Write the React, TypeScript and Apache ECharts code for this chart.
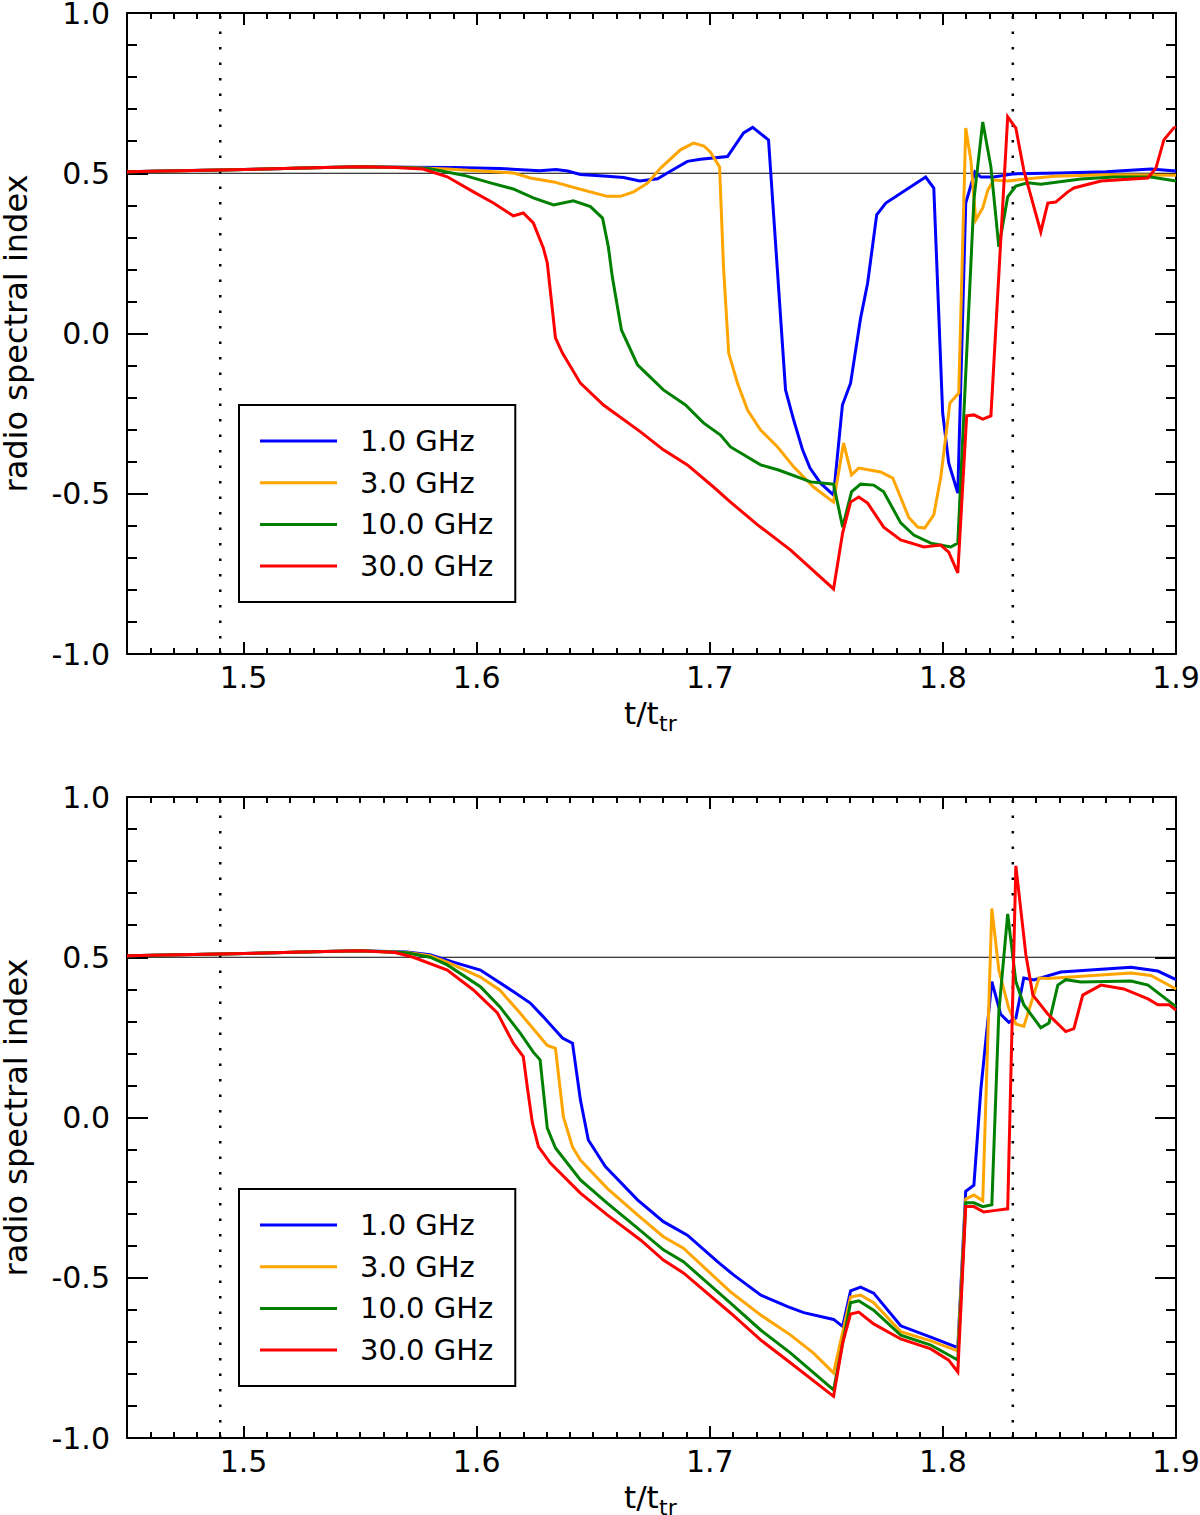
import React, { useEffect, useRef } from "react";
import * as echarts from "echarts";

// Time axis in units of t_tr, spectral index on the vertical axis
const tMin = 1.45;
const tMax = 1.9;
const alphaMin = -1;
const alphaMax = 1;
const majorTimeTicks = [1.5, 1.6, 1.7, 1.8, 1.9];
const minorTimeTicks = Array.from({ length: 44 }, (_, i) => +(1.46 + i * 0.01).toFixed(2));
const markerTimes = [1.49, 1.83];
const referenceIndex = 0.5;

const frequencies = ["1.0 GHz", "3.0 GHz", "10.0 GHz", "30.0 GHz"];
const colors = ["#0000ff", "#ffa500", "#008000", "#ff0000"];

// Upper panel
const upper1GHz = [
  [1.45, 0.505], [1.47, 0.508], [1.49, 0.51], [1.51, 0.513], [1.53, 0.517], [1.55, 0.52], [1.57, 0.519],
  [1.59, 0.518], [1.61, 0.515], [1.627, 0.508], [1.634, 0.512], [1.639, 0.507], [1.6445, 0.496],
  [1.656, 0.491], [1.663, 0.487], [1.67, 0.476], [1.6776, 0.483], [1.684, 0.51], [1.6904, 0.537],
  [1.696, 0.544], [1.7076, 0.552], [1.7145, 0.626], [1.7184, 0.643], [1.7252, 0.604], [1.7325, -0.176],
  [1.736, -0.27], [1.7398, -0.363], [1.743, -0.42], [1.7475, -0.467], [1.7531, -0.504], [1.7569, -0.223],
  [1.7604, -0.155], [1.7647, 0.048], [1.7677, 0.157], [1.7716, 0.37], [1.7755, 0.407], [1.7926, 0.488],
  [1.7961, 0.454], [1.7999, -0.248], [1.8025, -0.404], [1.8064, -0.498], [1.8098, 0.407], [1.8137, 0.504],
  [1.8163, 0.488], [1.8218, 0.488], [1.8304, 0.498], [1.85, 0.501], [1.87, 0.505], [1.8892, 0.513], [1.9, 0.507],
];
const upper3GHz = [
  [1.45, 0.505], [1.49, 0.51], [1.53, 0.517], [1.55, 0.52], [1.57, 0.518], [1.5874, 0.513], [1.6157, 0.501],
  [1.623, 0.485], [1.633, 0.473], [1.6445, 0.45], [1.656, 0.428], [1.6617, 0.428], [1.6673, 0.442],
  [1.6733, 0.469], [1.6789, 0.516], [1.6874, 0.573], [1.693, 0.594], [1.6975, 0.585], [1.7003, 0.566],
  [1.7042, 0.52], [1.7059, 0.207], [1.7081, -0.061], [1.7119, -0.155], [1.7162, -0.239], [1.7218, -0.301],
  [1.7291, -0.354], [1.736, -0.416], [1.7445, -0.479], [1.7531, -0.526], [1.7574, -0.342], [1.7608, -0.441],
  [1.7639, -0.42], [1.7733, -0.432], [1.7785, -0.451], [1.7853, -0.573], [1.7892, -0.604], [1.7922, -0.607],
  [1.7961, -0.566], [1.7991, -0.448], [1.803, -0.217], [1.8068, -0.186], [1.8098, 0.641], [1.812, 0.541],
  [1.8141, 0.354], [1.8171, 0.392], [1.8193, 0.448], [1.8218, 0.479], [1.8278, 0.476], [1.8476, 0.491],
  [1.87, 0.495], [1.9, 0.494],
];
const upper10GHz = [
  [1.45, 0.505], [1.49, 0.51], [1.53, 0.517], [1.55, 0.52], [1.57, 0.518], [1.58, 0.514], [1.5943, 0.494],
  [1.6059, 0.47], [1.6157, 0.451], [1.6243, 0.423], [1.633, 0.401], [1.6415, 0.414], [1.6488, 0.396],
  [1.654, 0.36], [1.6565, 0.27], [1.6582, 0.176], [1.6621, 0.011], [1.669, -0.098], [1.6801, -0.176],
  [1.6896, -0.223], [1.6973, -0.279], [1.7046, -0.317], [1.7089, -0.354], [1.7218, -0.41], [1.7295, -0.426],
  [1.7433, -0.463], [1.7531, -0.47], [1.757, -0.604], [1.7608, -0.494], [1.7647, -0.47], [1.7703, -0.473],
  [1.7746, -0.494], [1.7819, -0.591], [1.7875, -0.629], [1.7948, -0.654], [1.8034, -0.666], [1.8064, -0.654],
  [1.8133, 0.417], [1.8171, 0.66], [1.8206, 0.52], [1.824, 0.27], [1.8278, 0.426], [1.8313, 0.46],
  [1.8364, 0.47], [1.842, 0.466], [1.8592, 0.482], [1.8734, 0.488], [1.8892, 0.488], [1.9, 0.476],
];
const upper30GHz = [
  [1.45, 0.505], [1.49, 0.51], [1.53, 0.517], [1.55, 0.52], [1.565, 0.518], [1.577, 0.513], [1.5874, 0.489],
  [1.5986, 0.442], [1.6072, 0.407], [1.6157, 0.367], [1.62, 0.376], [1.6243, 0.345], [1.6286, 0.267],
  [1.6303, 0.22], [1.6338, -0.014], [1.6368, -0.061], [1.6445, -0.155], [1.6544, -0.223], [1.6703, -0.307],
  [1.6801, -0.363], [1.6904, -0.41], [1.7016, -0.479], [1.7089, -0.526], [1.7205, -0.597], [1.7347, -0.676],
  [1.7531, -0.797], [1.757, -0.622], [1.7604, -0.526], [1.7639, -0.51], [1.7677, -0.529], [1.7746, -0.604],
  [1.7819, -0.644], [1.7918, -0.666], [1.7991, -0.66], [1.8025, -0.682], [1.8064, -0.747], [1.8102, -0.257],
  [1.8133, -0.254], [1.8171, -0.267], [1.8206, -0.257], [1.8278, 0.676], [1.8313, 0.641], [1.8347, 0.51],
  [1.842, 0.317], [1.845, 0.407], [1.8484, 0.41], [1.8536, 0.442], [1.8562, 0.454], [1.8678, 0.476],
  [1.8879, 0.485], [1.8914, 0.516], [1.8948, 0.604], [1.899, 0.641], [1.9, 0.645],
];

// Lower panel
const lower1GHz = [
  [1.45, 0.505], [1.49, 0.51], [1.53, 0.517], [1.55, 0.52], [1.57, 0.516], [1.58, 0.508], [1.59, 0.485],
  [1.6016, 0.46], [1.6157, 0.393], [1.623, 0.357], [1.6286, 0.314], [1.6368, 0.248], [1.6411, 0.232],
  [1.6445, 0.055], [1.6479, -0.07], [1.6552, -0.153], [1.669, -0.257], [1.6801, -0.325], [1.6904, -0.367],
  [1.7033, -0.45], [1.7102, -0.491], [1.7218, -0.554], [1.7334, -0.59], [1.7403, -0.609], [1.7531, -0.63],
  [1.757, -0.652], [1.7604, -0.541], [1.7647, -0.529], [1.7703, -0.548], [1.7819, -0.65], [1.7948, -0.685],
  [1.8064, -0.718], [1.8098, -0.23], [1.8133, -0.211], [1.8163, 0.089], [1.821, 0.424], [1.8248, 0.322],
  [1.8283, 0.297], [1.8313, 0.31], [1.8347, 0.435], [1.839, 0.429], [1.8506, 0.454], [1.8807, 0.469],
  [1.8922, 0.457], [1.9, 0.43],
];
const lower3GHz = [
  [1.45, 0.505], [1.49, 0.51], [1.53, 0.517], [1.55, 0.52], [1.57, 0.515], [1.58, 0.505], [1.5874, 0.485],
  [1.6016, 0.438], [1.61, 0.397], [1.6187, 0.325], [1.6303, 0.225], [1.6338, 0.216], [1.6372, 0.002],
  [1.6411, -0.092], [1.6445, -0.133], [1.656, -0.221], [1.669, -0.304], [1.6801, -0.372], [1.6887, -0.408],
  [1.7089, -0.544], [1.7218, -0.616], [1.7347, -0.679], [1.7445, -0.735], [1.7531, -0.797], [1.7604, -0.56],
  [1.7647, -0.554], [1.7703, -0.578], [1.7819, -0.668], [1.7948, -0.697], [1.8064, -0.728], [1.8098, -0.254],
  [1.8133, -0.242], [1.8171, -0.26], [1.821, 0.652], [1.824, 0.46], [1.8283, 0.34], [1.8313, 0.292],
  [1.8347, 0.284], [1.8412, 0.435], [1.845, 0.434], [1.8807, 0.451], [1.8892, 0.443], [1.9, 0.401],
];
const lower10GHz = [
  [1.45, 0.505], [1.49, 0.51], [1.53, 0.517], [1.55, 0.52], [1.57, 0.514], [1.58, 0.5], [1.5874, 0.476],
  [1.6016, 0.408], [1.61, 0.345], [1.6187, 0.263], [1.6243, 0.204], [1.6272, 0.18], [1.6303, -0.033],
  [1.6338, -0.095], [1.6445, -0.195], [1.656, -0.267], [1.669, -0.345], [1.6801, -0.413], [1.6887, -0.45],
  [1.7089, -0.579], [1.7218, -0.663], [1.7347, -0.735], [1.7531, -0.85], [1.7604, -0.578], [1.7639, -0.572],
  [1.7703, -0.601], [1.7819, -0.679], [1.7948, -0.71], [1.8064, -0.757], [1.8098, -0.266], [1.8133, -0.266],
  [1.8171, -0.278], [1.821, -0.272], [1.824, 0.329], [1.8278, 0.635], [1.8313, 0.424], [1.8347, 0.352],
  [1.842, 0.28], [1.8455, 0.295], [1.8493, 0.413], [1.8527, 0.43], [1.8592, 0.423], [1.8807, 0.426],
  [1.888, 0.413], [1.9, 0.346],
];
const lower30GHz = [
  [1.45, 0.505], [1.49, 0.51], [1.53, 0.517], [1.55, 0.52], [1.565, 0.515], [1.5728, 0.5], [1.5874, 0.46],
  [1.5986, 0.398], [1.6089, 0.326], [1.6157, 0.232], [1.62, 0.19], [1.6217, 0.096], [1.6239, -0.017],
  [1.6265, -0.091], [1.6316, -0.142], [1.6445, -0.236], [1.656, -0.304], [1.6703, -0.382], [1.6801, -0.445],
  [1.6887, -0.485], [1.7089, -0.61], [1.7218, -0.694], [1.7347, -0.766], [1.7531, -0.87], [1.757, -0.704],
  [1.7604, -0.613], [1.7639, -0.607], [1.7703, -0.644], [1.7819, -0.691], [1.7948, -0.722], [1.8025, -0.757],
  [1.8064, -0.794], [1.8098, -0.278], [1.8133, -0.278], [1.8175, -0.295], [1.8235, -0.289], [1.8278, -0.285],
  [1.8313, 0.785], [1.8356, 0.508], [1.8386, 0.382], [1.845, 0.323], [1.8527, 0.268], [1.8562, 0.277],
  [1.86, 0.382], [1.8678, 0.413], [1.8776, 0.401], [1.888, 0.37], [1.8922, 0.352], [1.897, 0.352], [1.9, 0.335],
];

const panels = [
  [upper1GHz, upper3GHz, upper10GHz, upper30GHz],
  [lower1GHz, lower3GHz, lower10GHz, lower30GHz],
];

const FONT = '"DejaVu Sans", "Liberation Sans", sans-serif';
const BLACK = "#000";

const grids = [
  { left: 127, top: 13, width: 1049, height: 641, outerBoundsMode: "none", containLabel: false },
  { left: 127, top: 797, width: 1049, height: 641, outerBoundsMode: "none", containLabel: false },
];
const legendTops = [405, 1189];

// x-axis title "t/t_tr" written as text plus lowered subscript under each panel
function axisTitle(gridTop: number, gridHeight: number) {
  const base = gridTop + gridHeight;
  return [
    {
      type: "text", x: 624, y: base + 59, silent: true,
      style: { text: "t/t", font: `31px ${FONT}`, fill: BLACK, align: "left", verticalAlign: "middle" },
    },
    {
      type: "text", x: 659, y: base + 69, silent: true,
      style: { text: "tr", font: `22px ${FONT}`, fill: BLACK, align: "left", verticalAlign: "middle" },
    },
  ];
}

function buildOption() {
  const xAxes: any[] = [];
  const yAxes: any[] = [];
  const series: any[] = [];

  grids.forEach((_, g) => {
    const lineStyle = { color: BLACK, width: 2 };
    const tickLabel = {
      show: true,
      customValues: majorTimeTicks,
      formatter: (v: number) => v.toFixed(1),
      margin: 8,
      color: BLACK,
      fontFamily: FONT,
      fontSize: 30,
    };
    // bottom: major ticks + labels
    xAxes.push({
      gridIndex: g, type: "value", min: tMin, max: tMax, position: "bottom",
      axisLine: { show: true, onZero: false, lineStyle },
      axisTick: { show: true, inside: true, length: 12, customValues: majorTimeTicks, lineStyle },
      axisLabel: tickLabel,
      splitLine: { show: false },
    });
    // bottom: minor ticks
    xAxes.push({
      gridIndex: g, type: "value", min: tMin, max: tMax, position: "bottom",
      axisLine: { show: false, onZero: false },
      axisTick: { show: true, inside: true, length: 6, customValues: minorTimeTicks, lineStyle },
      axisLabel: { show: false },
      splitLine: { show: false },
    });
    // top: major ticks
    xAxes.push({
      gridIndex: g, type: "value", min: tMin, max: tMax, position: "top",
      axisLine: { show: true, onZero: false, lineStyle },
      axisTick: { show: true, inside: true, length: 12, customValues: majorTimeTicks, lineStyle },
      axisLabel: { show: false },
      splitLine: { show: false },
    });
    // top: minor ticks
    xAxes.push({
      gridIndex: g, type: "value", min: tMin, max: tMax, position: "top",
      axisLine: { show: false, onZero: false },
      axisTick: { show: true, inside: true, length: 6, customValues: minorTimeTicks, lineStyle },
      axisLabel: { show: false },
      splitLine: { show: false },
    });

    const yCommon = {
      gridIndex: g, type: "value", min: alphaMin, max: alphaMax, interval: 0.5,
      axisLine: { show: true, onZero: false, lineStyle },
      axisTick: { show: true, inside: true, length: 21, lineStyle },
      minorTick: { show: true, splitNumber: 5, length: 10, lineStyle },
      splitLine: { show: false },
      minorSplitLine: { show: false },
    };
    yAxes.push({
      ...yCommon,
      position: "left",
      axisLabel: {
        show: true, formatter: (v: number) => v.toFixed(1), margin: 17,
        color: BLACK, fontFamily: FONT, fontSize: 30,
      },
      name: "radio spectral index",
      nameLocation: "middle",
      nameGap: 95,
      nameTextStyle: { fontFamily: FONT, fontSize: 32, color: BLACK },
    });
    yAxes.push({ ...yCommon, position: "right", axisLabel: { show: false } });

    const xIdx = g * 4;
    const yIdx = g * 2;

    series.push({
      type: "line", xAxisIndex: xIdx, yAxisIndex: yIdx, silent: true, symbol: "none", z: 1,
      data: [[tMin, referenceIndex], [tMax, referenceIndex]],
      lineStyle: { color: BLACK, width: 1.2 },
    });
    markerTimes.forEach((t) => {
      series.push({
        type: "line", xAxisIndex: xIdx, yAxisIndex: yIdx, silent: true, symbol: "none", z: 1,
        data: [[t, alphaMin], [t, alphaMax]],
        lineStyle: { color: BLACK, width: 2.5, type: [2.5, 13], cap: "butt" },
      });
    });

    panels[g].forEach((data, i) => {
      series.push({
        name: frequencies[i],
        type: "line", xAxisIndex: xIdx, yAxisIndex: yIdx,
        data, symbol: "none", showSymbol: false, z: 3 + i,
        color: colors[i],
        itemStyle: { color: colors[i] },
        lineStyle: { color: colors[i], width: 3, join: "miter" },
      });
    });
  });

  const legends = legendTops.map((top) => ({
    orient: "vertical",
    left: 239,
    top,
    data: frequencies,
    icon: "rect",
    itemWidth: 77,
    itemHeight: 3,
    itemGap: 11.7,
    padding: [21, 22, 21, 21],
    borderColor: BLACK,
    borderWidth: 2,
    backgroundColor: "#fff",
    selectedMode: false,
    textStyle: { fontFamily: FONT, fontSize: 29, color: BLACK, lineHeight: 30, padding: [0, 0, 0, 18] },
  }));

  return {
    animation: false,
    backgroundColor: "#fff",
    grid: grids,
    xAxis: xAxes,
    yAxis: yAxes,
    legend: legends,
    graphic: grids.flatMap((gr) => axisTitle(gr.top, gr.height)),
    series,
  };
}

export default function App() {
  const ref = useRef<HTMLDivElement>(null);
  useEffect(() => {
    if (!ref.current) return;
    const chart = echarts.init(ref.current, undefined, { renderer: "svg" });
    chart.setOption(buildOption() as any);
    return () => chart.dispose();
  }, []);
  return (
    <div
      ref={ref}
      style={{ position: "absolute", left: 0, top: 0, width: 1200, height: 1515, background: "#fff" }}
    />
  );
}
